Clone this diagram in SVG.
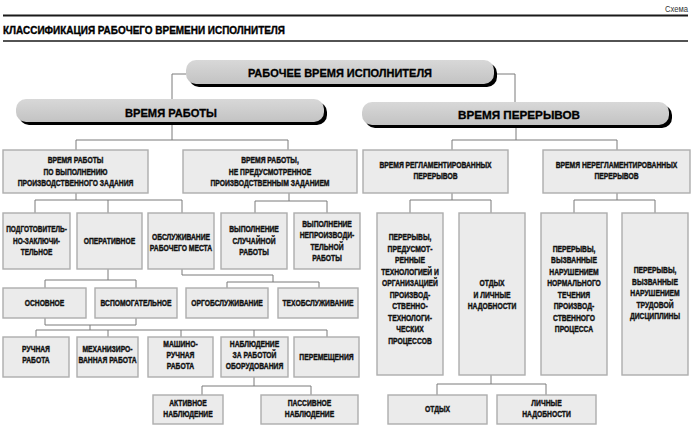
<svg xmlns="http://www.w3.org/2000/svg" width="700" height="435" viewBox="0 0 700 435">
<defs>
<linearGradient id="pg" x1="0" y1="0" x2="0" y2="1">
<stop offset="0" stop-color="#d8d8d8"/>
<stop offset="1" stop-color="#c3c3c3"/>
</linearGradient>
</defs>
<style>
.t{font-family:"Liberation Sans",Arial,sans-serif;font-weight:bold;font-size:9px;fill:#111;stroke:#111;stroke-width:0.42px;text-anchor:middle}
.pt{font-family:"Liberation Sans",Arial,sans-serif;font-weight:bold;font-size:10.5px;fill:#000;stroke:#000;stroke-width:0.3px;text-anchor:middle}
.box{fill:#ebebeb;stroke:#adadad;stroke-width:1.4}
.pill{fill:url(#pg)}
.sh{fill:#000}
.c{fill:none;stroke:#7a7a7a;stroke-width:1}
.rule{stroke:#1a1a1a}
</style>
<rect width="700" height="435" fill="#fff"/>
<text x="688" y="12" textLength="23" lengthAdjust="spacingAndGlyphs" style="font-family:'Liberation Sans',Arial,sans-serif;font-size:8.5px;fill:#333;text-anchor:end">Схема</text>
<line class="rule" x1="3" y1="15.5" x2="688" y2="15.5" stroke-width="2"/>
<text x="3" y="34" textLength="282" lengthAdjust="spacingAndGlyphs" style="font-family:'Liberation Sans',Arial,sans-serif;font-weight:bold;font-size:10.5px;fill:#000;stroke:#000;stroke-width:0.35px">КЛАССИФИКАЦИЯ РАБОЧЕГО ВРЕМЕНИ ИСПОЛНИТЕЛЯ</text>
<line class="rule" x1="3" y1="41" x2="688" y2="41" stroke-width="1.5"/>

<g id="connectors">
<path class="c" d="M186,74H172V99"/>
<path class="c" d="M494,74H515V102"/>
<path class="c" d="M172,125V140M76,150V140H288V150"/>
<path class="c" d="M516,128V140M452,150V140H617V150"/>
<path class="c" d="M76,193V200M35,213V200H182V213M108,200V213"/>
<path class="c" d="M289,193V201M255,213V201H327V213"/>
<path class="c" d="M452,193V200M410,213V200H491V213"/>
<path class="c" d="M617,193V200M574,213V200H655V213"/>
<path class="c" d="M108,269V280M45,288V280H136V288"/>
<path class="c" d="M182,269V275H273V282M227,288V282H319V288"/>
<path class="c" d="M45,318V325H136V318M90,325V330M36,337V330H327V337M108,330V337M181,330V337M254,330V337"/>
<path class="c" d="M254,377V386M202,395V386H311V395"/>
<path class="c" d="M491,375V384M437,395V384H546V395"/>
</g>

<g id="root">
<rect class="sh" x="189" y="63" width="308" height="24" rx="10"/>
<rect class="pill" x="186" y="60" width="308" height="24" rx="10"/>
<text class="pt" x="340" y="77" textLength="184" lengthAdjust="spacingAndGlyphs">РАБОЧЕЕ ВРЕМЯ ИСПОЛНИТЕЛЯ</text>
</g>
<g id="work">
<rect class="sh" x="19" y="102" width="308" height="23" rx="10"/>
<rect class="pill" x="16" y="99" width="308" height="23" rx="10"/>
<text class="pt" x="171" y="117" textLength="92" lengthAdjust="spacingAndGlyphs">ВРЕМЯ РАБОТЫ</text>
</g>
<g id="breaks">
<rect class="sh" x="365" y="105" width="307" height="23" rx="10"/>
<rect class="pill" x="362" y="102" width="307" height="23" rx="10"/>
<text class="pt" x="519" y="119" textLength="122" lengthAdjust="spacingAndGlyphs">ВРЕМЯ ПЕРЕРЫВОВ</text>
</g>

<g id="w1">
<rect class="box" x="3" y="150" width="145" height="43"/>
<g transform="translate(75.5,0) scale(0.75,1)">
<text class="t" x="0" y="163.5">ВРЕМЯ РАБОТЫ</text>
<text class="t" x="0" y="175">ПО ВЫПОЛНЕНИЮ</text>
<text class="t" x="0" y="186.5">ПРОИЗВОДСТВЕННОГО ЗАДАНИЯ</text>
</g>
</g>
<g id="w2">
<rect class="box" x="183" y="150" width="174" height="43"/>
<g transform="translate(270,0) scale(0.75,1)">
<text class="t" x="0" y="163.5">ВРЕМЯ РАБОТЫ,</text>
<text class="t" x="0" y="175">НЕ ПРЕДУСМОТРЕННОЕ</text>
<text class="t" x="0" y="186.5">ПРОИЗВОДСТВЕННЫМ ЗАДАНИЕМ</text>
</g>
</g>
<g id="b1">
<rect class="box" x="363" y="150" width="145" height="43"/>
<g transform="translate(435.5,0) scale(0.75,1)">
<text class="t" x="0" y="168">ВРЕМЯ РЕГЛАМЕНТИРОВАННЫХ</text>
<text class="t" x="0" y="179.5">ПЕРЕРЫВОВ</text>
</g>
</g>
<g id="b2">
<rect class="box" x="543" y="150" width="147" height="43"/>
<g transform="translate(616.5,0) scale(0.75,1)">
<text class="t" x="0" y="168">ВРЕМЯ НЕРЕГЛАМЕНТИРОВАННЫХ</text>
<text class="t" x="0" y="179.5">ПЕРЕРЫВОВ</text>
</g>
</g>

<g id="prep">
<rect class="box" x="3" y="213" width="67" height="56"/>
<g transform="translate(36.5,0) scale(0.72,1)">
<text class="t" x="0" y="232.5">ПОДГОТОВИТЕЛЬ-</text>
<text class="t" x="0" y="244">НО-ЗАКЛЮЧИ-</text>
<text class="t" x="0" y="255.5">ТЕЛЬНОЕ</text>
</g>
</g>
<g id="oper">
<rect class="box" x="77" y="213" width="65" height="56"/>
<g transform="translate(109.5,0) scale(0.75,1)">
<text class="t" x="0" y="244">ОПЕРАТИВНОЕ</text>
</g>
</g>
<g id="serv">
<rect class="box" x="148" y="213" width="66" height="56"/>
<g transform="translate(181,0) scale(0.75,1)">
<text class="t" x="0" y="240">ОБСЛУЖИВАНИЕ</text>
<text class="t" x="0" y="251.5">РАБОЧЕГО МЕСТА</text>
</g>
</g>
<g id="rand">
<rect class="box" x="221" y="213" width="66" height="56"/>
<g transform="translate(254,0) scale(0.75,1)">
<text class="t" x="0" y="232.5">ВЫПОЛНЕНИЕ</text>
<text class="t" x="0" y="244">СЛУЧАЙНОЙ</text>
<text class="t" x="0" y="255.5">РАБОТЫ</text>
</g>
</g>
<g id="unprod">
<rect class="box" x="294" y="213" width="66" height="56"/>
<g transform="translate(327,0) scale(0.75,1)">
<text class="t" x="0" y="227">ВЫПОЛНЕНИЕ</text>
<text class="t" x="0" y="238.5">НЕПРОИЗВОДИ-</text>
<text class="t" x="0" y="250">ТЕЛЬНОЙ</text>
<text class="t" x="0" y="261.5">РАБОТЫ</text>
</g>
</g>

<g id="main">
<rect class="box" x="3" y="288" width="83" height="30"/>
<g transform="translate(44.5,0) scale(0.75,1)">
<text class="t" x="0" y="306">ОСНОВНОЕ</text>
</g>
</g>
<g id="aux">
<rect class="box" x="95" y="288" width="82" height="30"/>
<g transform="translate(136,0) scale(0.75,1)">
<text class="t" x="0" y="306">ВСПОМОГАТЕЛЬНОЕ</text>
</g>
</g>
<g id="org">
<rect class="box" x="186" y="288" width="82" height="30"/>
<g transform="translate(227,0) scale(0.75,1)">
<text class="t" x="0" y="306">ОРГОБСЛУЖИВАНИЕ</text>
</g>
</g>
<g id="tech">
<rect class="box" x="278" y="288" width="80" height="30"/>
<g transform="translate(318,0) scale(0.75,1)">
<text class="t" x="0" y="306">ТЕХОБСЛУЖИВАНИЕ</text>
</g>
</g>

<g id="manual">
<rect class="box" x="3" y="337" width="66" height="40"/>
<g transform="translate(36,0) scale(0.75,1)">
<text class="t" x="0" y="352">РУЧНАЯ</text>
<text class="t" x="0" y="363.5">РАБОТА</text>
</g>
</g>
<g id="mech">
<rect class="box" x="77" y="337" width="61" height="40"/>
<g transform="translate(107.5,0) scale(0.75,1)">
<text class="t" x="0" y="352">МЕХАНИЗИРО-</text>
<text class="t" x="0" y="363.5">ВАННАЯ РАБОТА</text>
</g>
</g>
<g id="machman">
<rect class="box" x="148" y="337" width="65" height="40"/>
<g transform="translate(180.5,0) scale(0.75,1)">
<text class="t" x="0" y="346.5">МАШИНО-</text>
<text class="t" x="0" y="358">РУЧНАЯ</text>
<text class="t" x="0" y="369.5">РАБОТА</text>
</g>
</g>
<g id="observe">
<rect class="box" x="221" y="337" width="67" height="40"/>
<g transform="translate(254.5,0) scale(0.75,1)">
<text class="t" x="0" y="346.5">НАБЛЮДЕНИЕ</text>
<text class="t" x="0" y="358">ЗА РАБОТОЙ</text>
<text class="t" x="0" y="369.5">ОБОРУДОВАНИЯ</text>
</g>
</g>
<g id="move">
<rect class="box" x="294" y="337" width="65" height="40"/>
<g transform="translate(326.5,0) scale(0.75,1)">
<text class="t" x="0" y="360">ПЕРЕМЕЩЕНИЯ</text>
</g>
</g>

<g id="active">
<rect class="box" x="153" y="395" width="70" height="29"/>
<g transform="translate(188,0) scale(0.75,1)">
<text class="t" x="0" y="406">АКТИВНОЕ</text>
<text class="t" x="0" y="417.5">НАБЛЮДЕНИЕ</text>
</g>
</g>
<g id="passive">
<rect class="box" x="261" y="395" width="97" height="29"/>
<g transform="translate(309.5,0) scale(0.75,1)">
<text class="t" x="0" y="406">ПАССИВНОЕ</text>
<text class="t" x="0" y="417.5">НАБЛЮДЕНИЕ</text>
</g>
</g>

<g id="tech-breaks">
<rect class="box" x="377" y="213" width="66" height="162"/>
<g transform="translate(410,0) scale(0.75,1)">
<text class="t" x="0" y="240.5">ПЕРЕРЫВЫ,</text>
<text class="t" x="0" y="252">ПРЕДУСМОТ-</text>
<text class="t" x="0" y="263.5">РЕННЫЕ</text>
<text class="t" x="0" y="275">ТЕХНОЛОГИЕЙ И</text>
<text class="t" x="0" y="286.5">ОРГАНИЗАЦИЕЙ</text>
<text class="t" x="0" y="298">ПРОИЗВОД-</text>
<text class="t" x="0" y="309.5">СТВЕННО-</text>
<text class="t" x="0" y="321">ТЕХНОЛОГИ-</text>
<text class="t" x="0" y="332.5">ЧЕСКИХ</text>
<text class="t" x="0" y="344">ПРОЦЕССОВ</text>
</g>
</g>
<g id="rest-personal">
<rect class="box" x="459" y="213" width="66" height="162"/>
<g transform="translate(492,0) scale(0.75,1)">
<text class="t" x="0" y="286.5">ОТДЫХ</text>
<text class="t" x="0" y="298">И ЛИЧНЫЕ</text>
<text class="t" x="0" y="309.5">НАДОБНОСТИ</text>
</g>
</g>
<g id="disrupt">
<rect class="box" x="541" y="213" width="66" height="162"/>
<g transform="translate(574,0) scale(0.75,1)">
<text class="t" x="0" y="252">ПЕРЕРЫВЫ,</text>
<text class="t" x="0" y="263.5">ВЫЗВАННЫЕ</text>
<text class="t" x="0" y="275">НАРУШЕНИЕМ</text>
<text class="t" x="0" y="286.5">НОРМАЛЬНОГО</text>
<text class="t" x="0" y="298">ТЕЧЕНИЯ</text>
<text class="t" x="0" y="309.5">ПРОИЗВОД-</text>
<text class="t" x="0" y="321">СТВЕННОГО</text>
<text class="t" x="0" y="332.5">ПРОЦЕССА</text>
</g>
</g>
<g id="discipline">
<rect class="box" x="622" y="213" width="66" height="162"/>
<g transform="translate(655,0) scale(0.75,1)">
<text class="t" x="0" y="273.5">ПЕРЕРЫВЫ,</text>
<text class="t" x="0" y="285">ВЫЗВАННЫЕ</text>
<text class="t" x="0" y="296.5">НАРУШЕНИЕМ</text>
<text class="t" x="0" y="308">ТРУДОВОЙ</text>
<text class="t" x="0" y="319.5">ДИСЦИПЛИНЫ</text>
</g>
</g>

<g id="rest">
<rect class="box" x="388" y="395" width="99" height="29"/>
<g transform="translate(437.5,0) scale(0.75,1)">
<text class="t" x="0" y="412">ОТДЫХ</text>
</g>
</g>
<g id="personal">
<rect class="box" x="497" y="395" width="99" height="29"/>
<g transform="translate(546.5,0) scale(0.75,1)">
<text class="t" x="0" y="406">ЛИЧНЫЕ</text>
<text class="t" x="0" y="417.5">НАДОБНОСТИ</text>
</g>
</g>
</svg>
